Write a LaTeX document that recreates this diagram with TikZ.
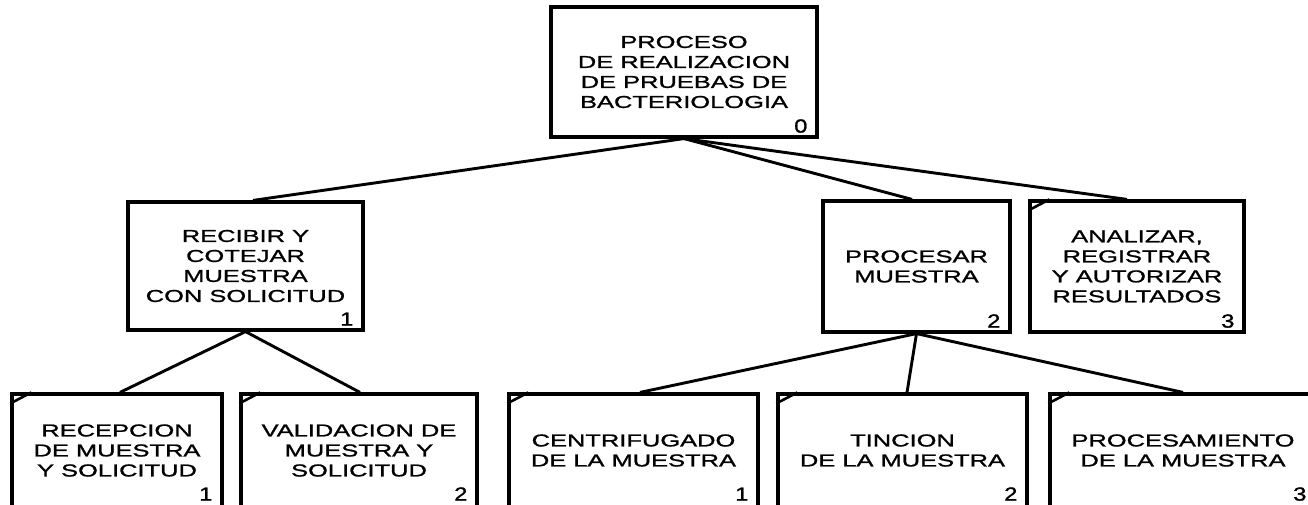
\documentclass[tikz,border=0pt]{standalone}
\usepackage{fontspec}
\newfontfamily\diafont[FakeStretch=1.48,FakeBold=1.2]{Liberation Sans}
\newfontfamily\numfont[FakeStretch=1.25,FakeBold=1.2]{Liberation Sans}
\begin{document}
\begin{tikzpicture}[x=1pt,y=-1pt,
  box/.style={draw, line width=3.2pt, rectangle, inner sep=0pt, align=center,
    font=\diafont\fontsize{17.2}{20}\selectfont, text=black},
  num/.style={inner sep=0pt, font=\numfont\fontsize{19}{20}\selectfont, anchor=base east},
  conn/.style={line width=2.9pt},
  cornertick/.style={line width=2.6pt}]
\useasboundingbox (0,0) rectangle (1308,505);
\clip (0,0) rectangle (1308,505);
\fill[white] (0,0) rectangle (1308,505);

% level 0
\node[box, minimum width=266pt, minimum height=130pt] (top) at (684,72)
  {PROCESO\\DE REALIZACION\\DE PRUEBAS DE\\BACTERIOLOGIA};
% level 1
\node[box, minimum width=235pt, minimum height=128pt] (b1) at (245.5,266)
  {RECIBIR Y\\COTEJAR\\MUESTRA\\CON SOLICITUD};
\node[box, minimum width=187pt, minimum height=131pt] (b2) at (916.5,266.5)
  {PROCESAR\\MUESTRA};
\node[box, minimum width=214pt, minimum height=131pt] (b3) at (1137,266.5)
  {ANALIZAR,\\REGISTRAR\\Y AUTORIZAR\\RESULTADOS};
% level 2
\node[box, minimum width=210pt, minimum height=113pt] (c11) at (117,450.5)
  {RECEPCION\\DE MUESTRA\\Y SOLICITUD};
\node[box, minimum width=236pt, minimum height=113pt] (c12) at (359,450.5)
  {VALIDACION DE\\MUESTRA Y\\SOLICITUD};
\node[box, minimum width=249pt, minimum height=113pt] (c21) at (633.5,450.5)
  {CENTRIFUGADO\\DE LA MUESTRA};
\node[box, minimum width=249pt, minimum height=113pt] (c22) at (902.5,450.5)
  {TINCION\\DE LA MUESTRA};
\node[box, minimum width=266pt, minimum height=113pt] (c23) at (1183,450.5)
  {PROCESAMIENTO\\DE LA MUESTRA};

% numbers
\node[num] (n0) at ([xshift=-11pt,yshift=6pt]top.south east) {0};
\node[num] (n1) at ([xshift=-11pt,yshift=6pt]b1.south east) {1};
\node[num] (n2) at ([xshift=-11pt,yshift=6pt]b2.south east) {2};
\node[num] (n3) at ([xshift=-11pt,yshift=6pt]b3.south east) {3};
\node[num] (n11) at ([xshift=-11pt,yshift=8pt]c11.south east) {1};
\node[num] (n12) at ([xshift=-11pt,yshift=8pt]c12.south east) {2};
\node[num] (n21) at ([xshift=-11pt,yshift=8pt]c21.south east) {1};
\node[num] (n22) at ([xshift=-11pt,yshift=8pt]c22.south east) {2};
\node[num] (n23) at ([xshift=-11pt,yshift=8pt]c23.south east) {3};

% corner ticks
\foreach \n in {b3,c11,c12,c21,c22,c23}{
  \draw[cornertick] ([yshift=-11pt]\n.north west) -- ([xshift=21pt]\n.north west);
}

% connectors
\draw[conn] (top.south) -- ([xshift=7.5pt]b1.north);
\draw[conn] (top.south) -- ([xshift=-4.5pt]b2.north);
\draw[conn] (top.south) -- ([xshift=-10pt]b3.north);
\draw[conn] (b1.south) -- ([xshift=3pt]c11.north);
\draw[conn] (b1.south) -- ([xshift=1pt]c12.north);
\draw[conn] (b2.south) -- ([xshift=6.5pt]c21.north);
\draw[conn] (b2.south) -- ([xshift=4.5pt]c22.north);
\draw[conn] (b2.south) -- (c23.north);
\end{tikzpicture}
\end{document}
